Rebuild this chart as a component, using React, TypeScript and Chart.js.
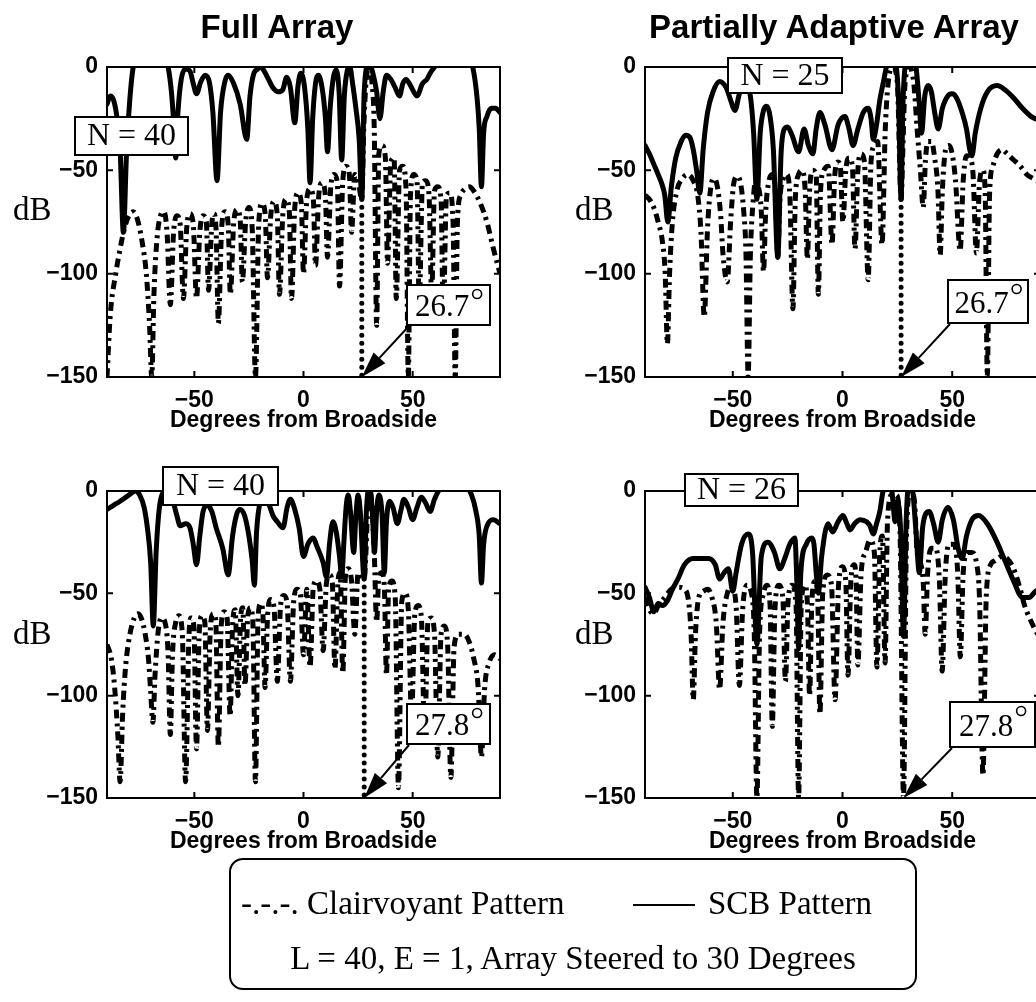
import React, { useEffect, useRef } from "react";
import { Chart, registerables } from "chart.js";

Chart.register(...registerables);

// Beam patterns as [degrees from broadside, level in dB].
// Case 1: interference null at 26.7 degrees; case 2: null at 27.8 degrees.

const FULL_CASE1_CLAIRVOYANT = [
  [-90, -150], [-88.5, -120], [-86, -100], [-84, -88], [-82, -78], [-80, -72], [-78, -70], [-76, -74],
  [-74, -84], [-72, -100], [-70.5, -125], [-69.5, -150], [-68.5, -110], [-67, -82], [-65.5, -72], [-64, -70],
  [-62.5, -80], [-61, -115], [-59.5, -80], [-58, -72], [-56.5, -76], [-55, -112], [-53.5, -78], [-52, -71],
  [-50.5, -76], [-49, -112], [-47.5, -80], [-46, -72], [-44.5, -75], [-43.5, -108], [-42, -76], [-41, -71],
  [-40, -80], [-39, -124], [-37.5, -78], [-36, -70], [-34.5, -76], [-33.5, -110], [-32, -76], [-30.5, -69],
  [-29, -74], [-28, -104], [-26.5, -75], [-25, -68], [-23.5, -78], [-22, -150], [-20.5, -76], [-19, -66],
  [-17.5, -72], [-16.5, -102], [-15, -72], [-13.5, -65], [-12, -72], [-11, -110], [-9.5, -72], [-8, -64],
  [-6.5, -70], [-5.5, -112], [-4, -68], [-2.5, -61], [-1, -66], [0, -100], [1.5, -64], [3, -59],
  [4.5, -64], [5.5, -96], [7, -62], [8.5, -56], [10, -62], [11, -92], [12.5, -58], [14, -52],
  [15.5, -56], [16.5, -106], [18, -55], [19.5, -48], [21, -52], [22, -80], [23.5, -52], [25, -55],
  [26.7, -64], [27.6, -30], [28.6, -8], [30, 0], [31.4, -8], [32.4, -30], [33.5, -125], [34.5, -42],
  [36, -38], [37.5, -44], [38.5, -95], [40, -46], [41.5, -44], [42.5, -112], [44, -50], [45.5, -48],
  [47, -60], [48, -150], [49, -62], [50.5, -52], [52, -55], [53, -116], [54.5, -56], [56, -55],
  [57.5, -62], [58.7, -110], [60, -60], [61.5, -58], [63, -64], [64, -120], [65.5, -62], [67, -61],
  [68.5, -75], [69.5, -150], [70.5, -75], [72, -62], [74, -59], [76, -58], [78, -60], [81, -66],
  [84, -75], [87, -88], [90, -100],
];

const FULL_CASE1_SCB = [
  [-90, -18], [-88.5, -14], [-87, -16], [-85.5, -24], [-84, -40], [-82.5, -80], [-81, -40], [-79.5, -15],
  [-78, 0], [-75, 9], [-70, 13], [-65, 9], [-62, 0], [-60.5, -12], [-59.5, -26], [-58.5, -44],
  [-57.5, -22], [-56, -6], [-54, -1], [-52, -2], [-50.5, -8], [-49, -13], [-47, -7], [-45, -4],
  [-43, -8], [-41.5, -22], [-39.6, -55], [-38, -22], [-36, -7], [-34.5, -4], [-32, -8], [-29, -18],
  [-26, -35], [-24.5, -14], [-23, -4], [-21, -1], [-19.5, 0], [-18, -2], [-16, -6], [-14, -10],
  [-11.5, -12], [-9.5, -11], [-7.7, -5], [-6, -10], [-4, -27], [-2.5, -9], [-1.2, -3], [0.5, -10],
  [2, -30], [3, -56], [4.2, -25], [5.5, -8], [6.8, -4], [8.5, -10], [10, -24], [11, -41],
  [12.2, -20], [13.7, -5], [15, -1.5], [16.3, -12], [17.5, -45], [18.7, -14], [20, -2], [21.2, 0],
  [22.5, -8], [24, -20], [25.5, -35], [26.7, -64], [27.8, -12], [30, 2], [32, -4], [33.5, -12],
  [35, -25], [36.5, -12], [38, -4], [40, -6], [42, -10], [44, -14], [45.5, -8], [47, -6],
  [49, -9], [52, -14], [54.5, -8], [56.5, -6], [58, -3], [60, 0], [65, 8], [70, 10],
  [75, 5], [77.5, 0], [79.5, -15], [80.5, -30], [81.5, -58], [82.5, -32], [84, -24], [86, -20],
  [88, -20], [90, -22],
];

const PARTIAL_CASE1_CLAIRVOYANT = [
  [-90, -62], [-88, -64], [-86, -68], [-84, -75], [-82, -85], [-80.8, -100], [-79.8, -134], [-78.8, -100],
  [-77.5, -75], [-75.5, -60], [-73, -54], [-70.5, -52], [-68, -55], [-66, -62], [-64.5, -80], [-63, -121],
  [-61.5, -78], [-60, -58], [-58.5, -54], [-57, -58], [-55.5, -72], [-54.5, -90], [-52.5, -104], [-51, -75],
  [-49.5, -56], [-48, -53], [-46.5, -56], [-45, -70], [-44, -90], [-43, -150], [-42, -92], [-40.8, -66],
  [-39.5, -55], [-38.3, -58], [-37, -70], [-36, -99], [-35, -70], [-33.5, -55], [-32, -52], [-30.5, -62],
  [-29.5, -92], [-28.5, -64], [-27, -54], [-25.5, -52], [-24, -62], [-22.6, -117], [-21.5, -64], [-20, -52],
  [-18.5, -50], [-17, -60], [-16, -93], [-15, -60], [-13.5, -50], [-12, -52], [-11, -110], [-10, -60],
  [-8.5, -50], [-6.5, -48], [-4.8, -86], [-3.5, -52], [-2, -46], [-1, -48], [0.2, -75], [1.5, -50],
  [3, -44], [4.5, -48], [5.7, -88], [7, -50], [8.5, -42], [10, -46], [11.7, -103], [13, -46],
  [14.5, -38], [16, -36], [18, -86], [19.5, -30], [21, -6], [23, 0], [25, -8], [26.7, -64],
  [27.5, -40], [28.5, -8], [30.5, 0], [32.5, -8], [34, -30], [35.5, -50], [36.8, -68], [37.8, -45],
  [39, -36], [40.5, -36], [42, -44], [43.5, -60], [44.5, -91], [45.5, -60], [47, -40], [48.5, -38],
  [50, -42], [51.5, -55], [53.6, -89], [55, -55], [56.5, -43], [58, -44], [59.5, -52], [61, -90],
  [62.5, -55], [64, -50], [65, -60], [66, -150], [67, -62], [68.5, -48], [70.5, -42], [72.8, -40],
  [75, -42], [78, -45], [81, -48], [84, -52], [87, -54], [90, -56],
];

const PARTIAL_CASE1_SCB = [
  [-90, -38], [-88, -42], [-86, -47], [-84, -52], [-82.5, -56], [-81, -62], [-79.6, -75], [-78, -58],
  [-76, -44], [-73.5, -36], [-71.5, -33], [-69.6, -34], [-68, -40], [-66.5, -50], [-65, -61], [-63.5, -40],
  [-61.5, -22], [-59, -12], [-56, -7], [-53, -10], [-51, -16], [-49, -21], [-47, -13], [-44.5, -7.5],
  [-42, -14], [-40.5, -32], [-39, -64], [-37.5, -32], [-36, -21], [-34.5, -19], [-33, -24], [-31.5, -40],
  [-29.5, -92], [-28, -42], [-26.5, -30], [-25, -29], [-23, -33], [-20, -41], [-17.5, -30], [-15.5, -38],
  [-13.5, -42], [-12, -30], [-10.3, -22], [-8, -28], [-4.8, -40], [-2, -28], [1.1, -24], [3, -30],
  [4.8, -38], [7, -30], [9.5, -22], [11.7, -20], [13, -25], [14, -35], [15.5, -28], [17, -16],
  [18.5, -8], [20, 0], [22, 8], [24, 4], [25.5, -15], [26.7, -64], [27.5, -20], [28.5, 0],
  [31, 8], [33.5, 0], [35, -18], [36, -32], [37.5, -14], [39, -9], [40.5, -12], [42, -22],
  [43.6, -30], [45.5, -20], [48, -14], [50, -13], [52, -15], [54.5, -22], [56.5, -30], [58, -40],
  [59, -43], [60.5, -32], [63, -20], [66, -12], [70.5, -9], [74, -11], [78, -15], [82, -20],
  [86, -24], [90, -26],
];

const FULL_CASE2_CLAIRVOYANT = [
  [-90, -75], [-88, -82], [-86.5, -96], [-85, -120], [-84, -142], [-82.8, -108], [-81.5, -86], [-79.5, -70],
  [-77.5, -62], [-75.7, -60], [-74, -63], [-72.5, -70], [-71, -82], [-70, -98], [-69, -113], [-68, -90],
  [-66.5, -68], [-65, -62], [-63.5, -64], [-62, -80], [-61, -119], [-60, -80], [-58.5, -64], [-57, -61],
  [-55.5, -70], [-54, -142], [-52.5, -72], [-51.5, -62], [-50.2, -66], [-49, -126], [-47.8, -70], [-46.5, -61],
  [-45.2, -64], [-44, -117], [-42.7, -68], [-41.4, -60], [-40.2, -63], [-39, -125], [-37.7, -66], [-36.4, -59],
  [-35, -62], [-33.6, -110], [-32.5, -66], [-31.3, -58], [-30, -100], [-28.8, -62], [-27.8, -57], [-26.8, -95],
  [-25.5, -61], [-24.3, -57], [-23.2, -64], [-22, -142], [-20.8, -62], [-19.6, -55], [-18.6, -60], [-17.6, -96],
  [-16.4, -60], [-15, -53], [-13.5, -57], [-12, -93], [-10.5, -56], [-9, -51], [-7.5, -55], [-6, -93],
  [-4.5, -54], [-3, -48], [-1.5, -50], [0, -80], [1.5, -48], [3, -86], [4.5, -47], [6, -44],
  [7.5, -48], [9, -78], [10.5, -45], [12, -41], [13.2, -45], [14.4, -87], [15.8, -44], [16.8, -40],
  [18, -89], [19.2, -42], [20.5, -38], [22, -44], [23.5, -70], [25, -40], [26.5, -42], [27.8, -43],
  [28.6, -30], [29.4, -8], [30.4, 0], [31.4, -8], [32.4, -30], [33.5, -64], [34.5, -42], [35.8, -40],
  [37, -46], [38, -90], [39, -48], [40.5, -44], [42, -52], [43.5, -145], [45, -54], [46.5, -50],
  [48, -58], [49.5, -110], [51, -60], [52.5, -56], [54, -62], [55.5, -120], [57, -64], [58.5, -62],
  [60, -70], [61.5, -130], [63, -70], [64.5, -66], [66, -75], [67.5, -140], [69, -76], [71, -70],
  [73.5, -70], [76, -74], [78, -82], [80, -96], [81.5, -130], [83, -96], [85, -84], [87.5, -80],
  [90, -82],
];

const FULL_CASE2_SCB = [
  [-90, -9], [-87, -7], [-84, -5], [-80, -2], [-77, 0], [-75, -2], [-73, -8], [-71.5, -18],
  [-70, -35], [-68.8, -66], [-67.5, -30], [-66, -8], [-64, 0], [-62, 2], [-60, -4], [-58, -12],
  [-56.5, -17], [-54, -16], [-52, -18], [-50.5, -26], [-49, -36], [-47.5, -22], [-46, -10], [-44, -7],
  [-42, -10], [-40, -18], [-37, -28], [-34.5, -41], [-32.5, -22], [-30.5, -11], [-29, -9], [-27, -12],
  [-25, -22], [-23.5, -34], [-22.5, -46], [-21.5, -20], [-19.5, -4], [-18, -2], [-16, -6], [-14, -12],
  [-12, -15], [-9.4, -18], [-7.5, -8], [-6, -4], [-4, -9], [-2, -18], [0, -32], [2, -26],
  [4.3, -23], [6.5, -28], [9, -35], [10.5, -42], [12, -25], [13.5, -15], [15, -20], [16.5, -32],
  [17.5, -42], [18.5, -25], [19.5, -8], [20.5, -2], [21.5, -10], [23, -30], [24, -12], [25, -2],
  [26, -10], [27.8, -43], [28.8, -10], [30.2, 2], [31.5, -10], [32.5, -30], [33.5, -10], [34.5, -2],
  [36, -12], [37, -40], [38, -15], [39.5, -5], [41, -8], [43, -16], [44.5, -10], [46, -4],
  [48, -8], [50, -14], [52, -8], [54, -3], [56, -6], [58, -10], [60, -4], [63, 2],
  [68, 6], [73, 4], [77, -2], [79, -10], [80.5, -22], [81.5, -45], [82.5, -26], [84.5, -16],
  [87, -14], [90, -16],
];

const PARTIAL_CASE2_CLAIRVOYANT = [
  [-90, -52], [-88, -58], [-86, -60], [-84, -56], [-81, -52], [-78, -48], [-75, -47], [-72, -48],
  [-70, -55], [-69, -70], [-68, -102], [-67, -70], [-65.5, -52], [-63.5, -49], [-61.5, -48], [-59.5, -52],
  [-57.5, -65], [-56, -97], [-54.5, -65], [-52.5, -50], [-50.5, -47], [-48.5, -56], [-47, -95], [-45.5, -58],
  [-43.5, -46], [-41.5, -50], [-40.2, -70], [-39, -150], [-37.8, -70], [-36, -50], [-34.5, -46], [-33, -56],
  [-32, -115], [-30.8, -58], [-29, -46], [-27.2, -52], [-26, -93], [-24.8, -54], [-23, -46], [-21.2, -55],
  [-20, -150], [-18.8, -56], [-17.2, -46], [-16, -55], [-15, -100], [-14, -55], [-12.5, -44], [-11.3, -52],
  [-10.3, -109], [-9, -50], [-7, -41], [-5, -46], [-3.4, -102], [-1.8, -46], [0, -37], [1.5, -44],
  [2.5, -90], [3.8, -44], [5.3, -36], [6.2, -44], [7, -85], [8.5, -40], [10.5, -30], [12.5, -24],
  [14.5, -30], [15.7, -86], [17, -30], [18.2, -22], [19.4, -84], [20.5, -15], [22.5, -2], [24.5, -2],
  [26.2, -20], [27.8, -150], [29.2, -20], [31, 0], [32.8, -5], [34, -30], [35.5, -35], [36.8, -45],
  [37.7, -70], [38.8, -40], [40.5, -28], [42.5, -28], [44.2, -45], [45.4, -88], [46.8, -42], [48.5, -26],
  [50.5, -26], [52.5, -40], [53.7, -81], [55, -40], [57, -30], [59, -30], [61, -35], [62.5, -55],
  [64, -139], [65.5, -52], [67.5, -36], [69.6, -34], [72.5, -32], [75, -33], [78, -38], [81, -48],
  [83, -56], [86.5, -65], [90, -72],
];

const PARTIAL_CASE2_SCB = [
  [-90, -47], [-88, -52], [-86, -59], [-84, -55], [-82, -56], [-80, -54], [-77.5, -48], [-75, -43],
  [-72, -36], [-68, -33], [-64, -33], [-61, -33], [-58, -36], [-56, -43], [-54, -40], [-52, -38],
  [-50, -49], [-48.5, -40], [-46, -26], [-43, -21], [-41, -30], [-39, -75], [-37, -32], [-34, -25],
  [-31, -30], [-28.6, -38], [-26, -32], [-24, -26], [-21.7, -23], [-20.8, -45], [-20, -77], [-19, -40],
  [-16.5, -26], [-14, -23], [-13, -26], [-12, -40], [-11, -50], [-9.5, -32], [-6.6, -16], [-4.5, -20],
  [-2, -15], [0.2, -12], [2, -16], [3.4, -19], [5.5, -16], [8, -14], [11, -15], [12.5, -17],
  [14, -21], [15.5, -16], [17, -10], [18.5, 0], [20.5, 5], [22.5, 0], [24, -15], [25, -5],
  [26.5, -20], [27.8, -71], [29, -15], [30.5, 5], [32, 0], [33.5, -20], [35, -40], [36.5, -18],
  [38, -11], [39.5, -10], [41.5, -16], [43.6, -25], [45.5, -14], [48, -8], [50.5, -14], [52.7, -28],
  [54.5, -33], [56.5, -22], [59, -14], [62, -12], [66, -16], [70, -24], [74, -34], [78, -44],
  [82, -52], [85, -52], [88, -49], [90, -48],
];

const X_TICKS = [-50, 0, 50];
const Y_TICKS = [-150, -100, -50, 0];
const NULL_ANGLE_CASE1 = 26.7;
const NULL_ANGLE_CASE2 = 27.8;
const ELEMENTS = { fullCase1: 40, partialCase1: 25, fullCase2: 40, partialCase2: 26 };

const SANS = '"Liberation Sans", Arial, sans-serif';
const SERIF = '"Liberation Serif", "Times New Roman", serif';

// Common frame geometry for every panel canvas
const PAD_LEFT = 107;
const PAD_TOP = 67;
const PAD_RIGHT = 20;
const X_AXIS_H = 63;
const Y_AXIS_W = 60;

const fmtTick = (v: number) => (v < 0 ? "\u2212" + Math.abs(v) : String(v));

type Box = { x0: number; y0: number; x1: number; y1: number };

type PanelProps = {
  left: number;
  top: number;
  plotW: number;
  plotH: number;
  clairvoyant: number[][];
  scb: number[][];
  nullAngle: number;
  dottedNull: boolean;
  elements: number;
  nBox: Box;
  angleBox: Box;
};

function Panel(props: PanelProps) {
  const ref = useRef<HTMLCanvasElement | null>(null);
  const width = PAD_LEFT + props.plotW + PAD_RIGHT;
  const height = PAD_TOP + props.plotH + X_AXIS_H;

  useEffect(() => {
    const canvas = ref.current;
    if (!canvas) return;
    const toXY = (arr: number[][]) => arr.map(([x, y]) => ({ x, y }));
    const nullPoint = props.scb.find((p) => p[0] === props.nullAngle);

    const datasets: any[] = [
      {
        data: toXY(props.scb),
        borderColor: "#000",
        borderWidth: 5,
        pointRadius: 0,
        cubicInterpolationMode: "monotone",
        borderJoinStyle: "round",
        borderCapStyle: "round",
        clip: 0,
        order: 1,
      },
      {
        data: toXY(props.clairvoyant),
        borderColor: "#000",
        borderWidth: 5,
        borderDash: [9, 5, 3, 5],
        pointRadius: 0,
        cubicInterpolationMode: "monotone",
        borderCapStyle: "butt",
        clip: 0,
        order: 2,
      },
    ];
    if (props.dottedNull && nullPoint) {
      datasets.push({
        data: [
          { x: props.nullAngle, y: nullPoint[1] },
          { x: props.nullAngle, y: -150 },
        ],
        borderColor: "#000",
        borderWidth: 5,
        borderDash: [0, 8],
        borderCapStyle: "round",
        pointRadius: 0,
        tension: 0,
        clip: 4,
        order: 3,
      });
    }

    const decor = {
      id: "panelDecor",
      afterDatasetsDraw(chart: any) {
        const { ctx, chartArea: a, scales } = chart;
        const xs = scales.x;
        const ys = scales.y;
        ctx.save();
        ctx.strokeStyle = "#000";
        ctx.fillStyle = "#000";

        // axes box
        ctx.lineWidth = 2;
        ctx.strokeRect(a.left, a.top, a.right - a.left, a.bottom - a.top);

        // inward tick marks on all four sides
        const tl = 6;
        ctx.beginPath();
        for (const v of X_TICKS) {
          const px = xs.getPixelForValue(v);
          ctx.moveTo(px, a.bottom);
          ctx.lineTo(px, a.bottom - tl);
          ctx.moveTo(px, a.top);
          ctx.lineTo(px, a.top + tl);
        }
        for (const v of Y_TICKS) {
          const py = ys.getPixelForValue(v);
          ctx.moveTo(a.left, py);
          ctx.lineTo(a.left + tl, py);
          ctx.moveTo(a.right, py);
          ctx.lineTo(a.right - tl, py);
        }
        ctx.stroke();

        const boxAt = (b: Box) => ({
          x: a.left + b.x0,
          y: a.top + b.y0,
          w: b.x1 - b.x0,
          h: b.y1 - b.y0,
        });

        // element count label
        const nb = boxAt(props.nBox);
        ctx.fillStyle = "#fff";
        ctx.fillRect(nb.x, nb.y, nb.w, nb.h);
        ctx.lineWidth = 2;
        ctx.strokeRect(nb.x, nb.y, nb.w, nb.h);
        ctx.fillStyle = "#000";
        ctx.font = `32px ${SERIF}`;
        ctx.textAlign = "center";
        ctx.textBaseline = "middle";
        ctx.fillText(`N = ${props.elements}`, nb.x + nb.w / 2, nb.y + nb.h / 2 + 1);

        // null angle label with arrow
        const ab = boxAt(props.angleBox);
        const tipX = xs.getPixelForValue(props.nullAngle);
        const tipY = ys.getPixelForValue(-150);
        const tailX = ab.x + 2;
        const tailY = ab.y + ab.h + 1;
        const ang = Math.atan2(tipY - tailY, tipX - tailX);
        const headL = 26;
        const headW = 8;
        const baseX = tipX - headL * Math.cos(ang);
        const baseY = tipY - headL * Math.sin(ang);
        ctx.lineWidth = 2;
        ctx.beginPath();
        ctx.moveTo(tailX, tailY);
        ctx.lineTo(baseX, baseY);
        ctx.stroke();
        ctx.beginPath();
        ctx.moveTo(tipX, tipY);
        ctx.lineTo(baseX + headW * Math.sin(ang), baseY - headW * Math.cos(ang));
        ctx.lineTo(baseX - headW * Math.sin(ang), baseY + headW * Math.cos(ang));
        ctx.closePath();
        ctx.fill();

        ctx.fillStyle = "#fff";
        ctx.fillRect(ab.x, ab.y, ab.w, ab.h);
        ctx.strokeRect(ab.x, ab.y, ab.w, ab.h);
        ctx.fillStyle = "#000";
        ctx.font = `31px ${SERIF}`;
        ctx.textAlign = "left";
        ctx.textBaseline = "middle";
        const txt = props.nullAngle.toFixed(1);
        const tw = ctx.measureText(txt).width;
        const tx = ab.x + (ab.w - tw - 13) / 2;
        ctx.fillText(txt, tx, ab.y + ab.h / 2 + 3);
        ctx.lineWidth = 1.6;
        ctx.beginPath();
        ctx.arc(tx + tw + 8, ab.y + 9, 4.5, 0, Math.PI * 2);
        ctx.stroke();
        ctx.restore();
      },
    };

    const tickFont = { family: SANS, size: 23, weight: "bold" as const };
    const chart = new Chart(canvas, {
      type: "line",
      data: { datasets },
      options: {
        animation: false,
        responsive: false,
        events: [],
        layout: {
          padding: { left: PAD_LEFT - Y_AXIS_W, top: PAD_TOP, right: PAD_RIGHT, bottom: 0 },
        },
        plugins: { legend: { display: false }, tooltip: { enabled: false } },
        scales: {
          x: {
            type: "linear",
            min: -90,
            max: 90,
            afterBuildTicks: (s: any) => {
              s.ticks = X_TICKS.map((value) => ({ value }));
            },
            afterFit: (s: any) => {
              s.height = X_AXIS_H;
            },
            grid: { display: false, drawTicks: false },
            border: { display: false },
            ticks: {
              font: tickFont,
              color: "#000",
              padding: 10,
              maxRotation: 0,
              callback: (v: any) => fmtTick(Number(v)),
            },
            title: {
              display: true,
              text: "Degrees from Broadside",
              font: tickFont,
              color: "#000",
              padding: { top: 0, bottom: 6 },
            },
          },
          y: {
            type: "linear",
            min: -150,
            max: 0,
            afterBuildTicks: (s: any) => {
              s.ticks = Y_TICKS.map((value) => ({ value }));
            },
            afterFit: (s: any) => {
              s.width = Y_AXIS_W;
            },
            grid: { display: false, drawTicks: false },
            border: { display: false },
            ticks: {
              font: tickFont,
              color: "#000",
              padding: 9,
              callback: (v: any) => fmtTick(Number(v)),
            },
          },
        },
      },
      plugins: [decor],
    } as any);
    return () => chart.destroy();
  }, []);

  return (
    <canvas
      ref={ref}
      width={width}
      height={height}
      style={{ position: "absolute", left: props.left, top: props.top, width, height }}
    />
  );
}

const textBase: React.CSSProperties = { position: "absolute", whiteSpace: "nowrap", color: "#000" };

export default function App() {
  return (
    <div
      style={{
        position: "absolute",
        left: 0,
        top: 0,
        width: 1036,
        height: 1002,
        overflow: "hidden",
        background: "#fff",
      }}
    >
      <Panel
        left={0}
        top={0}
        plotW={393}
        plotH={310}
        clairvoyant={FULL_CASE1_CLAIRVOYANT}
        scb={FULL_CASE1_SCB}
        nullAngle={NULL_ANGLE_CASE1}
        dottedNull={true}
        elements={ELEMENTS.fullCase1}
        nBox={{ x0: -32, y0: 50, x1: 81, y1: 88 }}
        angleBox={{ x0: 300, y0: 218, x1: 383, y1: 258 }}
      />
      <Panel
        left={538}
        top={0}
        plotW={395}
        plotH={310}
        clairvoyant={PARTIAL_CASE1_CLAIRVOYANT}
        scb={PARTIAL_CASE1_SCB}
        nullAngle={NULL_ANGLE_CASE1}
        dottedNull={true}
        elements={ELEMENTS.partialCase1}
        nBox={{ x0: 83, y0: -9, x1: 197, y1: 26 }}
        angleBox={{ x0: 303, y0: 213, x1: 383, y1: 256 }}
      />
      <Panel
        left={0}
        top={424}
        plotW={393}
        plotH={307}
        clairvoyant={FULL_CASE2_CLAIRVOYANT}
        scb={FULL_CASE2_SCB}
        nullAngle={NULL_ANGLE_CASE2}
        dottedNull={true}
        elements={ELEMENTS.fullCase2}
        nBox={{ x0: 56, y0: -24, x1: 171, y1: 14 }}
        angleBox={{ x0: 300, y0: 213, x1: 383, y1: 253 }}
      />
      <Panel
        left={538}
        top={424}
        plotW={395}
        plotH={307}
        clairvoyant={PARTIAL_CASE2_CLAIRVOYANT}
        scb={PARTIAL_CASE2_SCB}
        nullAngle={NULL_ANGLE_CASE2}
        dottedNull={false}
        elements={ELEMENTS.partialCase2}
        nBox={{ x0: 40, y0: -17, x1: 153, y1: 15 }}
        angleBox={{ x0: 305, y0: 211, x1: 390, y1: 256 }}
      />

      <div style={{ ...textBase, left: 127, top: 8, width: 300, lineHeight: "40px", textAlign: "center", font: `bold 33px ${SANS}` }}>
        Full Array
      </div>
      <div style={{ ...textBase, left: 634, top: 8, width: 400, lineHeight: "40px", textAlign: "center", font: `bold 33px ${SANS}` }}>
        Partially Adaptive Array
      </div>

      <div style={{ ...textBase, left: 13, top: 191, lineHeight: "38px", font: `33px ${SERIF}` }}>dB</div>
      <div style={{ ...textBase, left: 575, top: 191, lineHeight: "38px", font: `33px ${SERIF}` }}>dB</div>
      <div style={{ ...textBase, left: 13, top: 615, lineHeight: "38px", font: `33px ${SERIF}` }}>dB</div>
      <div style={{ ...textBase, left: 575, top: 615, lineHeight: "38px", font: `33px ${SERIF}` }}>dB</div>

      <div
        style={{
          position: "absolute",
          left: 229,
          top: 858,
          width: 688,
          height: 132,
          border: "2px solid #000",
          borderRadius: 14,
          boxSizing: "border-box",
          font: `33px ${SERIF}`,
          lineHeight: "38px",
          color: "#000",
        }}
      >
        <div style={{ ...textBase, left: 10, top: 24 }}>-.-.-. Clairvoyant Pattern</div>
        <div style={{ position: "absolute", left: 402, top: 44, width: 62, borderTop: "2px solid #000" }} />
        <div style={{ ...textBase, left: 477, top: 24 }}>SCB Pattern</div>
        <div style={{ ...textBase, left: 0, width: 684, textAlign: "center", top: 79 }}>
          L = 40, E = 1, Array Steered to 30 Degrees
        </div>
      </div>
    </div>
  );
}
